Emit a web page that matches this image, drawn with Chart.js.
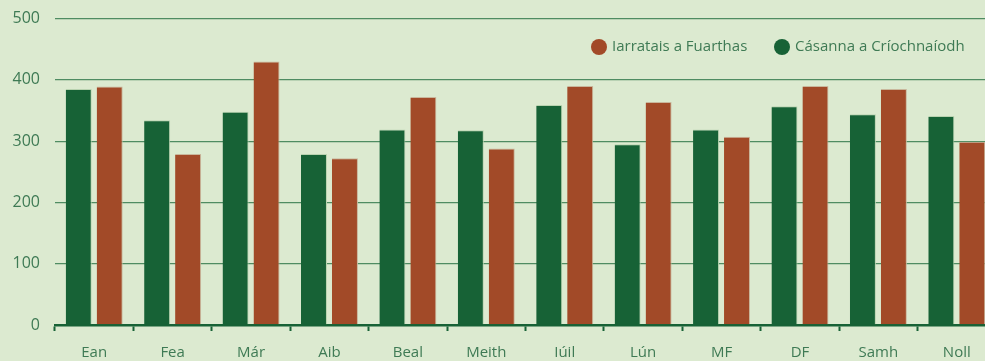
<!DOCTYPE html>
<html>
<head>
<meta charset="utf-8">
<script src="https://cdn.jsdelivr.net/npm/chart.js@4/dist/chart.umd.min.js"></script>
<style>
  html, body { margin: 0; padding: 0; background: #dcead0; overflow: hidden; }
  #wrap { width: 996px; height: 367px; margin-top: -6px; position: relative; }
</style>
</head>
<body>
<div id="wrap"><canvas id="chart"></canvas></div>
<script>
// Monthly figures
var months = ['Ean', 'Fea', 'Már', 'Aib', 'Beal', 'Meith', 'Iúil', 'Lún', 'MF', 'DF', 'Samh', 'Noll'];
var completed = [385, 334, 348, 279, 319, 318, 359, 295, 319, 357, 344, 341];
var received = [389, 279, 430, 272, 372, 288, 390, 364, 307, 390, 385, 299];
var completedLabel = 'Cásanna a Críochnaíodh';
var receivedLabel = 'Iarratais a Fuarthas';

var GREEN = '#176236';
var RUST = '#a24a28';
var TEXT = '#3e7a54';
var FONT = '"Open Sans", sans-serif';

// legend drawn inside the plot, top right, in reverse dataset order
var insideLegend = {
    id: 'insideLegend',
    afterDraw: function (chart) {
        var ctx = chart.ctx;
        var items = [
            { x: 599, text: chart.data.datasets[1].label, color: chart.data.datasets[1].backgroundColor },
            { x: 782, text: chart.data.datasets[0].label, color: chart.data.datasets[0].backgroundColor }
        ];
        var y = 53;
        ctx.save();
        ctx.font = '15px ' + FONT;
        ctx.textBaseline = 'middle';
        items.forEach(function (it) {
            ctx.fillStyle = it.color;
            ctx.beginPath();
            ctx.arc(it.x, y, 8, 0, Math.PI * 2);
            ctx.fill();
            ctx.fillStyle = TEXT;
            ctx.fillText(it.text, it.x + 13, y);
        });
        ctx.restore();
    }
};

new Chart(document.getElementById('chart'), {
    type: 'bar',
    data: {
        labels: months,
        datasets: [{
            label: completedLabel,
            data: completed,
            backgroundColor: GREEN,
            borderColor: '#b9d3b0',
            borderWidth: { top: 1, right: 1 },
            borderSkipped: 'bottom'
        }, {
            label: receivedLabel,
            data: received,
            backgroundColor: RUST,
            borderColor: '#c9b79c',
            borderWidth: { top: 1, right: 1 },
            borderSkipped: 'bottom'
        }]
    },
    options: {
        responsive: true,
        maintainAspectRatio: false,
        animation: false,
        categoryPercentage: 0.79,
        barPercentage: 0.84,
        layout: { padding: { top: 12, right: 0, bottom: 0, left: 0 } },
        plugins: {
            legend: { display: false },
            tooltip: { enabled: false }
        },
        scales: {
            x: {
                offset: true,
                afterFit: function (scale) { scale.height = 36; },
                grid: {
                    offset: true,
                    drawOnChartArea: false,
                    drawTicks: true,
                    tickLength: 6,
                    tickColor: GREEN,
                    tickWidth: 2
                },
                border: { display: true, color: GREEN, width: 2.5 },
                ticks: {
                    color: TEXT,
                    padding: 13,
                    font: { family: FONT, size: 15 },
                    maxRotation: 0,
                    autoSkip: false
                }
            },
            y: {
                min: 0,
                max: 500,
                afterFit: function (scale) { scale.width = 55; },
                grid: {
                    color: '#4f8c62',
                    lineWidth: 1.3,
                    drawTicks: false
                },
                border: { display: false },
                ticks: {
                    stepSize: 100,
                    color: TEXT,
                    padding: 15,
                    font: { family: FONT, size: 16 }
                }
            }
        }
    },
    plugins: [insideLegend]
});
</script>
</body>
</html>
